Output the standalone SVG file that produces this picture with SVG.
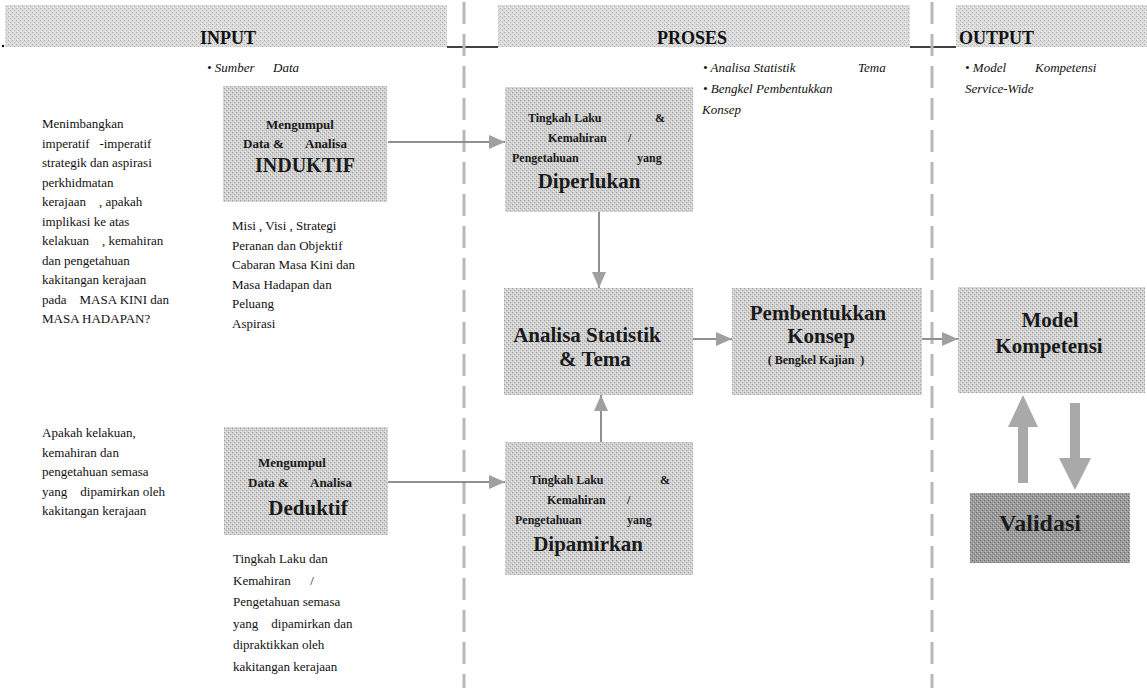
<svg xmlns="http://www.w3.org/2000/svg" width="1147" height="690" viewBox="0 0 1147 690">
<style>
.t{font-family:"Liberation Serif","Times New Roman",serif;font-size:13px;fill:#111}
.i{font-family:"Liberation Serif","Times New Roman",serif;font-size:13px;font-style:italic;fill:#111}
.h{font-family:"Liberation Serif","Times New Roman",serif;font-size:18px;font-weight:bold;fill:#111}
.b{font-family:"Liberation Serif","Times New Roman",serif;font-size:12px;font-weight:bold;fill:#1a1a1a}
.m{font-family:"Liberation Serif","Times New Roman",serif;font-size:13px;font-weight:bold;fill:#1a1a1a}
.L{font-family:"Liberation Serif","Times New Roman",serif;font-size:21px;font-weight:bold;fill:#1a1a1a}
.c{text-anchor:middle}
.box{fill:url(#tex)}
.conn{stroke:#909090;stroke-width:2;fill:none}
.dash{stroke:#b8b8b8;stroke-width:3;stroke-dasharray:22 10;fill:none}
.blk{fill:#a9a9a9}
</style>
<defs>
<pattern id="tex" width="4" height="4" patternUnits="userSpaceOnUse">
<rect width="4" height="4" fill="#d0d0d0"/>
<rect x="0" y="0" width="1" height="1" fill="#9c9c9c"/>
<rect x="2" y="2" width="1" height="1" fill="#a6a6a6"/>
<rect x="1" y="3" width="1" height="1" fill="#ededed"/>
<rect x="3" y="1" width="1" height="1" fill="#eeeeee"/>
</pattern>
<pattern id="texL" width="4" height="4" patternUnits="userSpaceOnUse">
<rect width="4" height="4" fill="#dcdcdc"/>
<rect x="0" y="0" width="1" height="1" fill="#aaaaaa"/>
<rect x="2" y="2" width="1" height="1" fill="#b4b4b4"/>
<rect x="1" y="3" width="1" height="1" fill="#f4f4f4"/>
</pattern>
<pattern id="texD" width="4" height="4" patternUnits="userSpaceOnUse">
<rect width="4" height="4" fill="#9a9a9a"/>
<rect x="0" y="0" width="1" height="1" fill="#6a6a6a"/>
<rect x="2" y="2" width="1" height="1" fill="#707070"/>
<rect x="1" y="3" width="1" height="1" fill="#c4c4c4"/>
<rect x="3" y="1" width="1" height="1" fill="#bebebe"/>
</pattern>
<marker id="ah" markerUnits="userSpaceOnUse" markerWidth="16" markerHeight="14" refX="16" refY="7" orient="auto">
<path d="M0,0 L16,7 L0,14 Z" fill="#a0a0a0"/>
</marker>
</defs>
<rect width="1147" height="690" fill="#ffffff"/>

<g id="header">
<rect x="5" y="5" width="442" height="42" fill="url(#texL)"/>
<rect x="498" y="5" width="412" height="42" fill="url(#texL)"/>
<rect x="956" y="5" width="191" height="42" fill="url(#texL)"/>
<line x1="447" y1="47" x2="498" y2="47" stroke="#000" stroke-width="1.5"/>
<line x1="910" y1="47" x2="956" y2="47" stroke="#000" stroke-width="1.5"/>
<circle cx="3" cy="46" r="1.2" fill="#000"/>
<text class="h" x="200" y="44">INPUT</text>
<text class="h" x="657" y="44">PROSES</text>
<text class="h" x="959" y="44">OUTPUT</text>
<text class="i" x="207" y="72">• Sumber<tspan x="273">Data</tspan></text>
<text class="i" x="703" y="72">• Analisa Statistik<tspan x="858">Tema</tspan></text>
<text class="i" x="703" y="93">• Bengkel Pembentukkan</text>
<text class="i" x="702" y="114">Konsep</text>
<text class="i" x="965" y="72">• Model<tspan x="1035">Kompetensi</tspan></text>
<text class="i" x="965" y="93">Service-Wide</text>
</g>

<g id="dividers">
<line class="dash" x1="464" y1="2" x2="464" y2="688"/>
<line class="dash" x1="932" y1="2" x2="932" y2="688"/>
</g>

<g id="question1">
<text class="t" x="42" y="128" xml:space="preserve">Menimbangkan</text>
<text class="t" x="42" y="147.5" xml:space="preserve">imperatif   -imperatif</text>
<text class="t" x="42" y="167" xml:space="preserve">strategik dan aspirasi</text>
<text class="t" x="42" y="186.5" xml:space="preserve">perkhidmatan</text>
<text class="t" x="42" y="206" xml:space="preserve">kerajaan    , apakah</text>
<text class="t" x="42" y="225.5" xml:space="preserve">implikasi ke atas</text>
<text class="t" x="42" y="245" xml:space="preserve">kelakuan    , kemahiran</text>
<text class="t" x="42" y="264.5" xml:space="preserve">dan pengetahuan</text>
<text class="t" x="42" y="284" xml:space="preserve">kakitangan kerajaan</text>
<text class="t" x="42" y="303.5" xml:space="preserve">pada    MASA KINI dan</text>
<text class="t" x="42" y="323" xml:space="preserve">MASA HADAPAN?</text>
</g>

<g id="question2">
<text class="t" x="42" y="437">Apakah kelakuan,</text>
<text class="t" x="42" y="456.5">kemahiran dan</text>
<text class="t" x="42" y="476">pengetahuan semasa</text>
<text class="t" x="42" y="495.5" xml:space="preserve">yang    dipamirkan oleh</text>
<text class="t" x="42" y="515">kakitangan kerajaan</text>
</g>

<g id="induktif">
<rect class="box" x="223" y="86" width="164" height="116"/>
<text class="m c" x="300" y="129">Mengumpul</text>
<text class="m" x="243" y="148">Data &amp;<tspan x="305">Analisa</tspan></text>
<text class="L c" x="305" y="172" style="font-size:20px">INDUKTIF</text>
</g>

<g id="induktif-list">
<text class="t" x="232" y="230">Misi , Visi , Strategi</text>
<text class="t" x="232" y="249.5">Peranan dan Objektif</text>
<text class="t" x="232" y="269">Cabaran Masa Kini dan</text>
<text class="t" x="232" y="288.5">Masa Hadapan dan</text>
<text class="t" x="232" y="308">Peluang</text>
<text class="t" x="232" y="327.5">Aspirasi</text>
</g>

<g id="deduktif">
<rect class="box" x="224" y="427" width="164" height="108"/>
<text class="m c" x="292" y="467">Mengumpul</text>
<text class="m" x="248" y="487">Data &amp;<tspan x="310">Analisa</tspan></text>
<text class="L c" x="308" y="515">Deduktif</text>
</g>

<g id="deduktif-list">
<text class="t" x="233" y="563">Tingkah Laku dan</text>
<text class="t" x="233" y="584.5" xml:space="preserve">Kemahiran      /</text>
<text class="t" x="233" y="606">Pengetahuan semasa</text>
<text class="t" x="233" y="627.5" xml:space="preserve">yang    dipamirkan dan</text>
<text class="t" x="233" y="649">dipraktikkan oleh</text>
<text class="t" x="233" y="670.5">kakitangan kerajaan</text>
</g>

<g id="diperlukan">
<rect class="box" x="505" y="87" width="188" height="125"/>
<text class="b" x="528" y="122">Tingkah Laku<tspan x="655">&amp;</tspan></text>
<text class="b" x="548" y="142">Kemahiran<tspan x="628">/</tspan></text>
<text class="b" x="512" y="162">Pengetahuan<tspan x="637">yang</tspan></text>
<text class="L c" x="589" y="188">Diperlukan</text>
</g>

<g id="analisa">
<rect class="box" x="504" y="288" width="189" height="107"/>
<text class="L c" x="587" y="342">Analisa Statistik</text>
<text class="L c" x="595" y="366">&amp; Tema</text>
</g>

<g id="dipamirkan">
<rect class="box" x="505" y="442" width="188" height="133"/>
<text class="b" x="530" y="484">Tingkah Laku<tspan x="660">&amp;</tspan></text>
<text class="b" x="547" y="504">Kemahiran<tspan x="627">/</tspan></text>
<text class="b" x="515" y="524">Pengetahuan<tspan x="627">yang</tspan></text>
<text class="L c" x="588" y="551">Dipamirkan</text>
</g>

<g id="pembentukkan">
<rect class="box" x="732" y="288" width="190" height="107"/>
<text class="L c" x="818" y="320">Pembentukkan</text>
<text class="L c" x="821" y="343">Konsep</text>
<text class="b c" x="816" y="364" xml:space="preserve">( Bengkel Kajian  )</text>
</g>

<g id="model">
<rect class="box" x="958" y="287" width="187" height="106"/>
<text class="L c" x="1050" y="327">Model</text>
<text class="L c" x="1049" y="353">Kompetensi</text>
</g>

<g id="validasi">
<rect x="970" y="493" width="160" height="70" fill="url(#texD)"/>
<text class="L c" x="1040" y="531" style="font-size:24px">Validasi</text>
</g>

<g id="connectors">
<line class="conn" x1="388" y1="142" x2="505" y2="142" marker-end="url(#ah)"/>
<line class="conn" x1="388" y1="482" x2="505" y2="482" marker-end="url(#ah)"/>
<line class="conn" x1="599" y1="212" x2="599" y2="288" marker-end="url(#ah)"/>
<line class="conn" x1="601" y1="442" x2="601" y2="395" marker-end="url(#ah)"/>
<line class="conn" x1="693" y1="339" x2="732" y2="339" marker-end="url(#ah)"/>
<line class="conn" x1="922" y1="339" x2="958" y2="339" marker-end="url(#ah)"/>
<polygon class="blk" points="1018,483 1028,483 1028,427 1038,427 1023,395 1008,427 1018,427"/>
<polygon class="blk" points="1070,403 1080,403 1080,458 1091,458 1075,490 1059,458 1070,458"/>
</g>
</svg>
